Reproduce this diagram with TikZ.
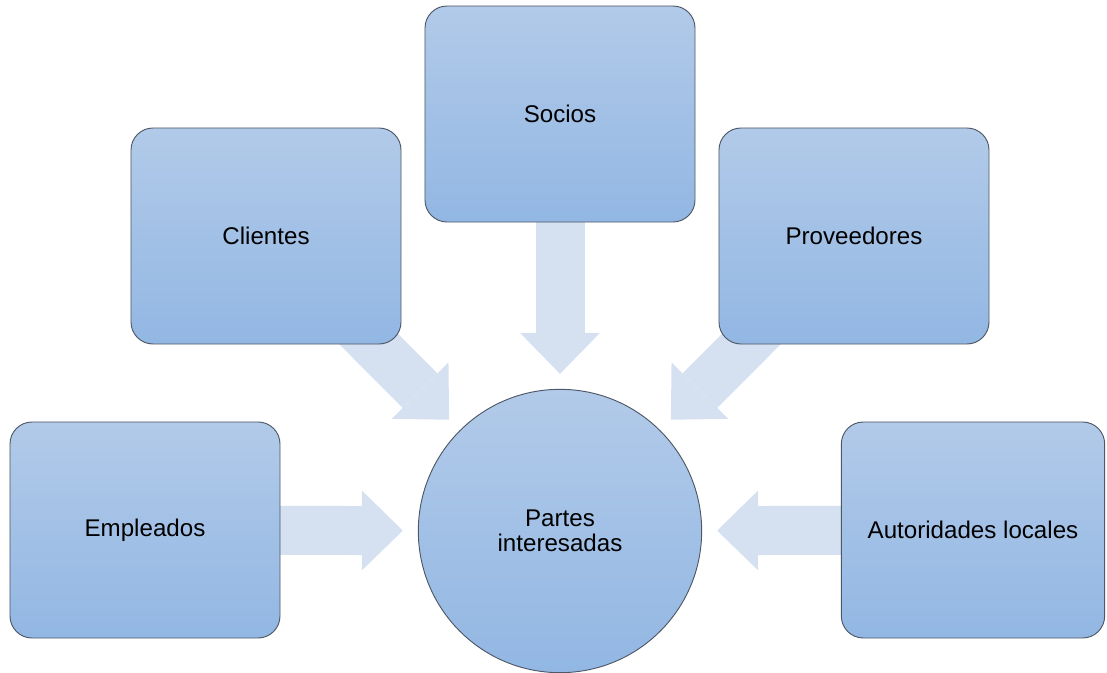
\documentclass[tikz,border=0pt]{standalone}
\usepackage{fontspec}
\setmainfont{Liberation Sans}
\usetikzlibrary{arrows.meta,backgrounds}

\definecolor{boxtop}{RGB}{178,202,233}
\definecolor{boxbottom}{RGB}{146,183,227}
\definecolor{boxline}{RGB}{78,88,102}
\definecolor{arrowblue}{RGB}{213,225,241}

\begin{document}
\begin{tikzpicture}[x=0.03cm,y=-0.03cm]

        \useasboundingbox (0,0) rectangle (1107,673);

        \begin{scope}[every node/.style={rounded corners=0.66cm,draw=boxline,line width=0.8pt,
            top color=boxtop,bottom color=boxbottom,minimum width=8.1cm,minimum height=6.48cm,
            font=\fontsize{20.6}{21.8}\selectfont,align=center}]
          \node (1) at (560,114) {Socios};
          \node (2) at (266,236) {Clientes};
          \node (3) at (854,236) {Proveedores};
          \node (4) at (145,530) {Empleados};
          \node (5) at (973,530) [minimum width=7.9cm] {Autoridades locales};
          \node (0) at (560,531) [circle,sharp corners,minimum size=8.5cm] {Partes\\interesadas};
        \end{scope}

        % wide arrows behind the boxes
        \begin{scope}[on background layer]
          \begin{scope}[every edge/.style={draw=arrowblue,line width=1.47cm,
              -{Triangle[length=1.23cm,width=2.4cm,line width=0pt]},shorten >=0.45cm}]
            \path (1.center) edge (0);
            \path (2.center) edge (0);
            \path (3.center) edge (0);
            \path (4.center) edge (0);
            \path (5.center) edge (0);
          \end{scope}
        \end{scope}

      \end{tikzpicture}
\end{document}
